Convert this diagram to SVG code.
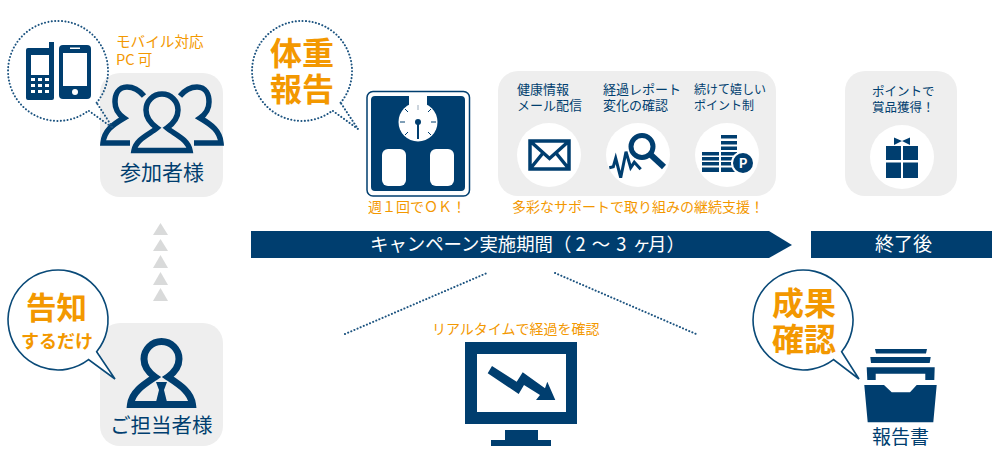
<svg xmlns="http://www.w3.org/2000/svg" width="1000" height="460" viewBox="0 0 1000 460">
<defs><style>
text{font-family:"Noto Sans CJK JP","Noto Sans",sans-serif}
.navy{fill:#003e6f}
.panel{fill:#eeeeee}
.white{fill:#fff}
.o{fill:#f39800}
.t{fill:#003e6f}
.b{font-weight:700;fill:#f39800}
.dot{fill:none;stroke:#1d5480;stroke-width:2;stroke-dasharray:.1 3.3;stroke-linecap:round}
.sb{fill:#fff;stroke:#0a4a78;stroke-width:1.6}
.ln{fill:none;stroke:#003e6f;stroke-width:5.5}
.tri{fill:#d9dada}
</style></defs>
<rect width="1000" height="460" fill="#fff"/>
<g id="participants">
<rect class="panel" x="100" y="73" width="123" height="124" rx="20"/>
<path class="ln" d="M144 96C139 90 133 87 127 87C118 87 115 95 115 102C115 108 118 114 124 118C112 125 104 131 103 143H130"/>
<path class="ln" d="M180 96C185 90 191 87 197 87C206 87 209 95 209 102C209 108 206 114 200 118C212 125 220 131 221 143H194"/>
<path class="ln" d="M134 150.500C136 139 150 134 157 128C150 123 146 117 146 110A16 16 0 0 1 178 110C178 117 174 123 167 128C174 134 188 139 190 150.500Z"/>
<text class="t" x="120" y="180" font-size="21">参加者様</text>
</g>
<g id="phones-bubble">
<path class="dot" d="M96.640 102.730A50 50 0 1 0 88.500 110.600L113 128L96.640 102.730"/>
<path class="navy" d="M28 48H49V42H54V98a2 2 0 0 1-2 2H28a2 2 0 0 1-2-2V50a2 2 0 0 1 2-2Z"/>
<rect class="white" x="31" y="55" width="18" height="20"/>
<g class="white"><rect x="31" y="78" width="4" height="3"/><rect x="38" y="78" width="4" height="3"/><rect x="45" y="78" width="4" height="3"/><rect x="31" y="84" width="4" height="3"/><rect x="38" y="84" width="4" height="3"/><rect x="45" y="84" width="4" height="3"/><rect x="31" y="90" width="4" height="3"/><rect x="38" y="90" width="4" height="3"/><rect x="45" y="90" width="4" height="3"/></g>
<rect class="navy" x="59" y="45" width="32" height="54" rx="4"/>
<rect class="white" x="63" y="53" width="24" height="33"/>
<rect class="white" x="70" y="47.500" width="10" height="1.500"/>
<circle class="white" cx="75" cy="92" r="3"/>
<text class="o" font-size="14.600"><tspan x="116" y="47">モバイル対応</tspan><tspan x="116" y="65">PC 可</tspan></text>
</g>
<g id="up-arrows" class="tri">
<path d="M160.500 223L168 235H153Z"/><path d="M160.500 239L168 251H153Z"/><path d="M160.500 255L168 268H153Z"/><path d="M160.500 272L168 285H153Z"/><path d="M160.500 288L168 301H153Z"/>
</g>
<g id="contact">
<rect class="panel" x="100" y="323" width="123" height="123" rx="20"/>
<path class="ln" style="stroke-width:7" d="M130.500 404.500C132 392 143 385 155 377C148 372 144 365 144 359A17.500 17.500 0 0 1 179 359C179 365 175 372 168 377C180 385 191 392 192.500 404.500Z"/>
<path class="t" d="M156 382H167L164 390L167 402H156L159 390Z"/>
<text class="t" x="110" y="433" font-size="20.500">ご担当者様</text>
</g>
<g id="notice-bubble">
<path class="sb" d="M96.640 351.730A50 50 0 1 0 88.500 359.600L115 379Z"/>
<text class="b" x="26" y="319" font-size="30.500">告知</text>
<text class="b" x="21" y="348" font-size="18">するだけ</text>
</g>
<g id="scale-bubble">
<path class="dot" d="M340.640 102.730A50 50 0 1 0 332.500 110.600L358 129L340.640 102.730"/>
<text class="b" font-size="32"><tspan x="270" y="65">体重</tspan><tspan x="270" y="101">報告</tspan></text>
</g>
<g id="scale">
<rect x="367" y="91.500" width="102.500" height="104.500" rx="6" fill="#fff" stroke="#003e6f" stroke-width="1.500"/>
<path class="navy" d="M375 96H409V105H427V96H461a4 4 0 0 1 4 4V187a4 4 0 0 1-4 4H375a4 4 0 0 1-4-4V100a4 4 0 0 1 4-4Z"/>
<circle class="white" cx="418" cy="122" r="19.500"/>
<g stroke="#003e6f" stroke-width="1"><path d="M418 105V110" stroke="#9ab"/><path d="M431 109L428 112M436 122H431M431 135L428 132M405 109L408 112M400 122H405M405 135L408 132"/></g>
<circle class="navy" cx="418" cy="122" r="3"/>
<path d="M418 122V139" stroke="#003e6f" stroke-width="2"/>
<rect class="white" x="382" y="149" width="24" height="37" rx="6"/>
<rect class="white" x="430" y="149" width="24" height="37" rx="6"/>
<text class="o" x="368" y="212" font-size="14">週１回でＯＫ！</text>
</g>
<g id="support">
<rect class="panel" x="498" y="71" width="278" height="125" rx="20"/>
<text class="t" font-size="13"><tspan x="517" y="94">健康情報</tspan><tspan x="517" y="110">メール配信</tspan></text>
<text class="t" font-size="13"><tspan x="603" y="94">経過レポート</tspan><tspan x="603" y="110">変化の確認</tspan></text>
<text class="t" font-size="12"><tspan x="694" y="94">続けて嬉しい</tspan><tspan x="694" y="110">ポイント制</tspan></text>
<circle class="white" cx="549" cy="155" r="32"/>
<circle class="white" cx="638" cy="155" r="32"/>
<circle class="white" cx="727" cy="155" r="32"/>
<path d="M530 141H569V169H530ZM530 141L549.500 158.500L569 141M530 169L543 153M569 169L556 153" fill="none" stroke="#003e6f" stroke-width="3.500"/>
<circle cx="642" cy="146.500" r="11" fill="none" stroke="#003e6f" stroke-width="5"/>
<path d="M651 155L664 167" stroke="#003e6f" stroke-width="6"/>
<path d="M609.300 167.700L613.300 166.700L615.700 158.300L620.700 177.700L626 151.700L630.700 167.700L634.300 162.300L640.700 169.300" fill="none" stroke="#003e6f" stroke-width="3"/>
<g class="navy"><rect x="721" y="135" width="16" height="3.500"/><rect x="721" y="141" width="16" height="3.500"/><rect x="721" y="146.500" width="16" height="3.500"/><rect x="702" y="152" width="17" height="3.500"/><rect x="721" y="152" width="16" height="3.500"/><rect x="702" y="157" width="17" height="3.500"/><rect x="721" y="157" width="16" height="3.500"/><rect x="702" y="162" width="17" height="3.500"/><rect x="721" y="162" width="16" height="3.500"/><rect x="702" y="167.500" width="17" height="4.500"/><rect x="721" y="167.500" width="16" height="4.500"/></g>
<circle cx="743" cy="163" r="12" fill="#fff"/><circle class="navy" cx="743" cy="163" r="10"/>
<text x="743" y="168" font-size="13" font-weight="700" fill="#fff" text-anchor="middle">P</text>
<text class="o" x="512" y="212" font-size="14">多彩なサポートで取り組みの継続支援！</text>
</g>
<g id="reward">
<rect class="panel" x="845" y="71" width="112" height="125" rx="20"/>
<text class="t" font-size="12.500"><tspan x="872" y="96">ポイントで</tspan><tspan x="872" y="112">賞品獲得！</tspan></text>
<circle class="white" cx="902" cy="157" r="32"/>
<path class="navy" d="M886 146H901V160H886ZM903 146H918V160H903ZM886 162.500H901V178H886ZM903 162.500H918V178H903ZM894 137.500L902 141L894 145ZM910 137.500L902 141L910 145Z"/>
</g>
<g id="timeline">
<path class="navy" d="M251 231H769L792 245L769 258H251Z"/>
<text x="370" y="251" font-size="18.400" fill="#fff" word-spacing="2">キャンペーン実施期間（<tspan dx="4">2</tspan> 〜 3 ヶ<tspan dx="-3">月</tspan>）</text>
<rect class="navy" x="811" y="231" width="181" height="27"/>
<text x="875" y="251" font-size="19" fill="#fff">終了後</text>
</g>
<g id="connectors">
<path class="dot" d="M345 334L487 273M555 273L696 334"/>
</g>
<g id="monitor">
<text class="o" x="432" y="334" font-size="14">リアルタイムで経過を確認</text>
<path class="navy" fill-rule="evenodd" d="M465 342H577V424H465ZM477 354V412H566V354Z"/>
<path class="navy" d="M505 430H538V440H551V446H491V440H505Z"/>
<path class="navy" d="M487.700 373.300L492 366L516.700 381.700L522.700 372.300L545 388.300L547.300 381.700L555.300 400H536L540 395L524 385L518.700 394Z"/>
</g>
<g id="report-bubble">
<path class="sb" d="M841.640 351.730A50 50 0 1 0 833.500 359.600L859 379Z"/>
<text class="b" font-size="32"><tspan x="772" y="315">成果</tspan><tspan x="772" y="351">確認</tspan></text>
</g>
<g id="tray">
<path class="navy" d="M875 349H927L926 353.500H876ZM870.300 357H930.700L929.700 363H871ZM866.700 367.300H934.700L934.300 380H925.300V373.700H875.700V380H867.300ZM864.300 385H884L891.700 392.300H910L916.700 385H936.700L933.300 422.300H867.700Z"/>
<text class="t" x="872" y="444" font-size="19">報告書</text>
</g>
</svg>
